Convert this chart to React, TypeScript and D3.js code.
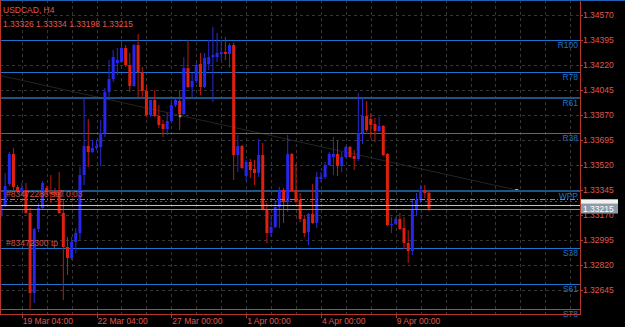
import React from "react";
import * as d3 from "d3";

const symbolTitle = "USDCAD, H4";
const ohlcText = "1.33326 1.33334 1.33198 1.33215";

const open = [1.33170,1.33240,1.33387,1.33597,1.33366,1.33331,1.33345,1.33184,1.32624,1.33072,1.33219,1.33359,1.33331,1.33338,1.33345,1.33184,1.32946,1.32869,1.32981,1.33044,1.33450,1.33653,1.33611,1.33639,1.33646,1.33744,1.34031,1.34122,1.34234,1.34241,1.34339,1.34220,1.34073,1.34360,1.34171,1.34038,1.33870,1.33975,1.33863,1.33807,1.33772,1.33828,1.33940,1.33968,1.33877,1.34199,1.34066,1.34108,1.34227,1.34066,1.34227,1.34276,1.34276,1.34297,1.34311,1.34297,1.34360,1.33590,1.33653,1.33443,1.33541,1.33492,1.33464,1.33590,1.33212,1.33044,1.33086,1.33226,1.33345,1.33261,1.33597,1.33345,1.33275,1.33142,1.33051,1.33177,1.33114,1.33422,1.33436,1.33520,1.33576,1.33597,1.33513,1.33576,1.33646,1.33583,1.33562,1.33744,1.33863,1.33842,1.33807,1.33758,1.33793,1.33597,1.33100,1.33107,1.33142,1.33079,1.32974,1.32918,1.33212,1.33275,1.33345,1.33326];
const high = [1.33275,1.33464,1.33611,1.33639,1.33380,1.33394,1.33394,1.33219,1.33079,1.33254,1.33408,1.33373,1.33450,1.33359,1.33471,1.33275,1.33016,1.33016,1.33079,1.33506,1.33989,1.33842,1.33695,1.33695,1.33835,1.34059,1.34255,1.34325,1.34339,1.34388,1.34360,1.34304,1.34367,1.34437,1.34206,1.34080,1.33975,1.34045,1.33940,1.33835,1.33884,1.33975,1.33989,1.34045,1.34276,1.34395,1.34164,1.34234,1.34304,1.34304,1.34395,1.34486,1.34444,1.34395,1.34416,1.34374,1.34374,1.33730,1.33660,1.33555,1.33562,1.33555,1.33702,1.33674,1.33254,1.33156,1.33275,1.33366,1.33359,1.33730,1.33604,1.33527,1.33324,1.33170,1.33184,1.33387,1.33471,1.33471,1.33541,1.33611,1.33716,1.33695,1.33611,1.33653,1.33653,1.33625,1.34024,1.33989,1.33968,1.33884,1.33849,1.33856,1.33800,1.33604,1.33156,1.33156,1.33184,1.33156,1.33065,1.33282,1.33324,1.33380,1.33380,1.33334];
const low = [1.33149,1.33226,1.33373,1.33345,1.33324,1.33310,1.33177,1.32505,1.32554,1.33051,1.33205,1.33310,1.33254,1.33296,1.33177,1.32575,1.32750,1.32855,1.32904,1.32995,1.33380,1.33506,1.33604,1.33625,1.33513,1.33716,1.33975,1.34101,1.34150,1.34234,1.34206,1.34031,1.34066,1.33996,1.33996,1.33856,1.33856,1.33856,1.33779,1.33716,1.33730,1.33821,1.33926,1.33765,1.33870,1.34059,1.33989,1.34094,1.34010,1.34059,1.34185,1.33961,1.34241,1.34248,1.34255,1.34199,1.33415,1.33471,1.33492,1.33408,1.33429,1.33380,1.33436,1.33205,1.32974,1.33016,1.33079,1.33079,1.33114,1.33191,1.33331,1.33254,1.33121,1.33016,1.32960,1.33107,1.33079,1.33401,1.33422,1.33513,1.33450,1.33443,1.33471,1.33569,1.33569,1.33485,1.33548,1.33667,1.33751,1.33709,1.33681,1.33751,1.33583,1.33093,1.33044,1.33100,1.33065,1.32932,1.32834,1.32890,1.33163,1.33254,1.33289,1.33198];
const close = [1.33240,1.33373,1.33597,1.33366,1.33338,1.33359,1.33184,1.32624,1.33072,1.33219,1.33394,1.33331,1.33317,1.33317,1.33184,1.32946,1.32869,1.32981,1.33044,1.33450,1.33653,1.33611,1.33639,1.33653,1.33744,1.34031,1.34122,1.34276,1.34255,1.34339,1.34220,1.34073,1.34360,1.34171,1.34038,1.33870,1.33975,1.33863,1.33800,1.33772,1.33828,1.33940,1.33975,1.33877,1.34199,1.34066,1.34108,1.34220,1.34066,1.34269,1.34276,1.34290,1.34304,1.34311,1.34297,1.34360,1.33590,1.33653,1.33499,1.33541,1.33485,1.33464,1.33590,1.33212,1.33044,1.33086,1.33226,1.33345,1.33261,1.33597,1.33338,1.33261,1.33142,1.33044,1.33177,1.33114,1.33436,1.33436,1.33520,1.33597,1.33597,1.33513,1.33576,1.33646,1.33576,1.33562,1.33744,1.33863,1.33765,1.33800,1.33758,1.33793,1.33590,1.33100,1.33107,1.33142,1.33072,1.32974,1.32918,1.33212,1.33275,1.33345,1.33324,1.33215];

const priceTicks = ["1.34570","1.34395","1.34220","1.34045","1.33870","1.33695","1.33520","1.33345","1.33170","1.32995","1.32820","1.32645"];
const timeTickBars = [5, 23, 41, 59, 77, 95];
const timeTickLabels = ["19 Mar 04:00","22 Mar 04:00","27 Mar 00:00","1 Apr 00:00","4 Apr 00:00","9 Apr 00:00"];

const levelNames = ["R100","R78","R61","R38","WPP","S38","S61","S78"];
const levelPrices = [1.34395,1.34171,1.33989,1.33744,1.33338,1.32939,1.32687,1.32512];
const levelHeavy = [false,false,true,false,true,false,false,false];

const orderPrice = 1.33275;
const askPrice = 1.33238;
const bidPrice = 1.33215;
const bidLabel = "1.33215";
const orderLabel = "#83472286 sell 0.03";
const tpLabel = "#83472300 tp";
const trendBars = [0, 124];
const trendPrices = [1.34145, 1.33345];

const W = 625, H = 327;
const PLOT_R = 580, PLOT_B = 314;
const FONT = "'Liberation Sans', Arial, sans-serif";
const TXT = "#e0574e";
const LVL = "#1c74cc";
const LVL_DARK = "#1f5480";
const AXIS = "#b8352b";
const GRID = "#363636";

export default function App() {
  const x = d3.scaleLinear().domain([0, 103]).range([1, 1 + 103 * 4.155]);
  const y = d3.scaleLinear().domain([1.34570, 1.32645]).range([15, 290]);
  const gridBars = d3.range(5, 140, 6).filter((b) => x(b) < PLOT_R);
  const boxBottom = y(bidPrice) + 5;

  return (
    <svg width={W} height={H} style={{ position: "fixed", left: 0, top: 0, background: "#000" }} fontFamily={FONT}>
      <defs>
        <clipPath id="belowBox">
          <rect x={PLOT_R} y={boxBottom} width={W - PLOT_R} height={H - boxBottom} />
        </clipPath>
      </defs>
      <rect x={0} y={0} width={W} height={H} fill="#000" />
      {/* grid */}
      {priceTicks.map((t) => (
        <line key={"hg" + t} x1={0} x2={PLOT_R} y1={Math.round(y(+t)) + 0.5} y2={Math.round(y(+t)) + 0.5} stroke={GRID} strokeDasharray="3,3" />
      ))}
      {gridBars.map((b) => (
        <line key={"vg" + b} x1={Math.round(x(b)) + 0.5} x2={Math.round(x(b)) + 0.5} y1={0} y2={PLOT_B} stroke={GRID} strokeDasharray="3,3" />
      ))}
      {/* trendline */}
      <line x1={x(trendBars[0])} y1={y(trendPrices[0])} x2={x(trendBars[1])} y2={y(trendPrices[1])} stroke="#242424" strokeWidth={1} />
      <rect x={x(trendBars[1]) - 1} y={y(trendPrices[1]) - 1} width={3} height={3} fill="#ff8a80" />
      {/* level lines */}
      {levelPrices.map((p, i) => (
        <g key={"lv" + i}>
          <line x1={0} x2={PLOT_R} y1={Math.round(y(p)) + (levelHeavy[i] ? 0 : 0.5)} y2={Math.round(y(p)) + (levelHeavy[i] ? 0 : 0.5)} stroke={levelHeavy[i] ? LVL_DARK : LVL} strokeWidth={levelHeavy[i] ? 2 : 1} />
          <text x={PLOT_R - 2} y={Math.round(y(p)) + 8} textAnchor="end" fontSize={8.5} fill={LVL}>{levelNames[i]}</text>
        </g>
      ))}
      {/* candles */}
      {open.map((o, i) => {
        const c = close[i];
        const up = c > o;
        const col = up ? "#2626ee" : "#e0200f";
        const wick = up ? "#2a2ad4" : "#c01a10";
        const cx = x(i);
        const top = y(Math.max(o, c));
        const bot = y(Math.min(o, c));
        return (
          <g key={"c" + i}>
            <line x1={cx} x2={cx} y1={y(high[i])} y2={y(low[i])} stroke={wick} strokeWidth={1} />
            <rect x={cx - 1.5} y={top} width={3} height={Math.max(1, bot - top)} fill={col} />
          </g>
        );
      })}
      {/* order lines */}
      <line x1={0} x2={PLOT_R} y1={y(orderPrice) - 0.5} y2={y(orderPrice) - 0.5} stroke="#3bbf3b" strokeDasharray="5,2,1,2" />
      <line x1={0} x2={PLOT_R} y1={y(orderPrice) + 1.5} y2={y(orderPrice) + 1.5} stroke="#1e7a2a" strokeDasharray="2,3" />
      <line x1={0} x2={PLOT_R} y1={Math.round(y(askPrice)) + 0.5} y2={Math.round(y(askPrice)) + 0.5} stroke="#c4c4c4" />
      <line x1={0} x2={PLOT_R} y1={Math.round(y(bidPrice)) + 0.5} y2={Math.round(y(bidPrice)) + 0.5} stroke="#8c8c8c" />
      {/* cursor mark */}
      <g stroke="#f0b0a8" strokeWidth={0.8}>
        <line x1={x(43.1) - 1.5} x2={x(43.1) + 1.5} y1={y(1.33863)} y2={y(1.33863)} />
        <line x1={x(43.1)} x2={x(43.1)} y1={y(1.33863) - 1.5} y2={y(1.33863) + 1.5} />
      </g>
      {/* order labels */}
      <text x={6} y={y(orderPrice) - 3} fontSize={8.5} fill={TXT} opacity={0.92}>{orderLabel}</text>
      <text x={6} y={246} fontSize={8.5} fill={TXT} opacity={0.92}>{tpLabel}</text>
      {/* header */}
      <text x={3} y={13} fontSize={8.5} fill={TXT}>{symbolTitle}</text>
      <text x={3} y={26.5} fontSize={8.5} fill={TXT}>{ohlcText}</text>
      {/* frame */}
      <line x1={0} x2={W} y1={0.5} y2={0.5} stroke="#1f5fae" />
      <line x1={0.5} x2={0.5} y1={0} y2={PLOT_B} stroke={AXIS} />
      <line x1={0} x2={PLOT_R + 1} y1={PLOT_B + 0.5} y2={PLOT_B + 0.5} stroke={AXIS} />
      <line x1={PLOT_R + 0.5} x2={PLOT_R + 0.5} y1={1} y2={PLOT_B + 1} stroke={AXIS} />
      {/* price axis */}
      {priceTicks.map((t) => {
        const hidden = Math.abs(y(+t) - y(bidPrice)) < 8;
        return (
          <g key={"pt" + t}>
            <line x1={PLOT_R} x2={PLOT_R + 3} y1={Math.round(y(+t)) + 0.5} y2={Math.round(y(+t)) + 0.5} stroke={AXIS} />
            <text x={PLOT_R + 3} y={y(+t) + 3.2} fontSize={8.5} fill={TXT} clipPath={hidden ? "url(#belowBox)" : undefined}>{t}</text>
          </g>
        );
      })}
      {/* time axis */}
      {timeTickBars.map((b, i) => (
        <g key={"tt" + b}>
          <line x1={Math.round(x(b)) + 0.5} x2={Math.round(x(b)) + 0.5} y1={PLOT_B} y2={PLOT_B + 4} stroke={AXIS} />
          <text x={x(b) + 1} y={324} fontSize={8.5} fill={TXT}>{timeTickLabels[i]}</text>
        </g>
      ))}
      {/* current price labels */}
      <rect x={581} y={y(askPrice) - 6} width={37} height={5} fill="#f2f2f2" />
      <rect x={581} y={y(bidPrice) - 5} width={37} height={10} fill="#8d9ba7" />
      <text x={583} y={y(bidPrice) + 3.2} fontSize={8.5} fill="#ffffff">{bidLabel}</text>
    </svg>
  );
}
